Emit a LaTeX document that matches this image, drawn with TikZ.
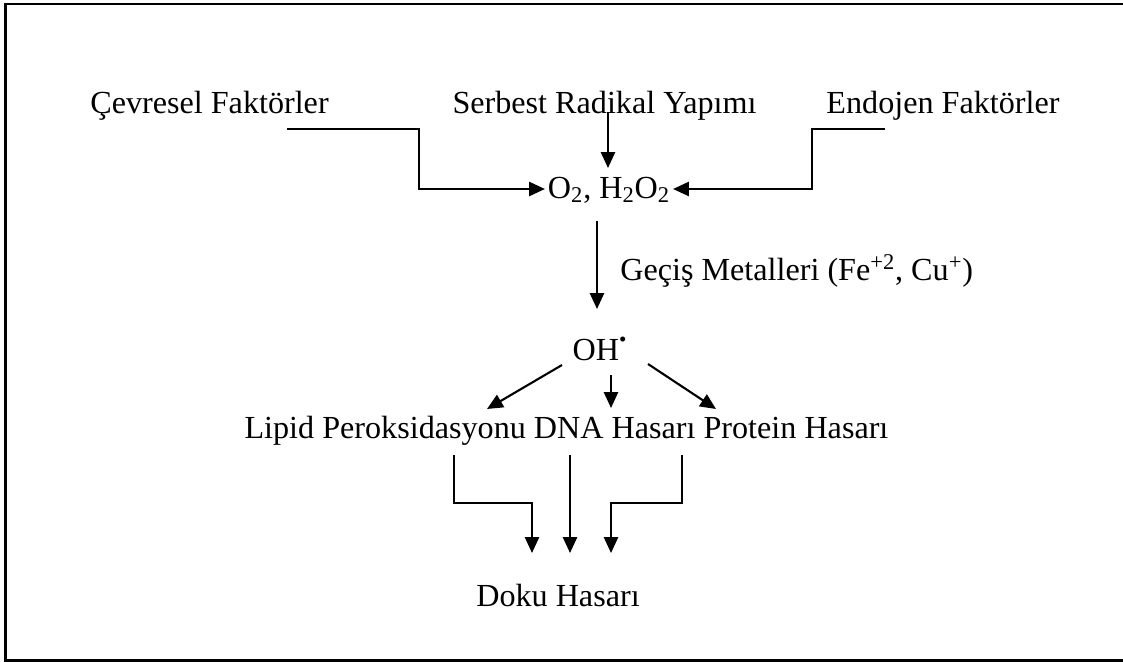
\documentclass[tikz,border=0pt]{standalone}
\usepackage{fontspec}
\setmainfont{Liberation Serif}
\usetikzlibrary{arrows.meta}
\begin{document}
\begin{tikzpicture}[x=0.02cm,y=-0.02cm,
  lbl/.style={inner sep=0pt,font=\fontsize{18.3}{22}\selectfont},
  conn/.style={line width=1.2pt,-{Triangle[width=8pt,length=9pt]}}]
\useasboundingbox (0,0) rectangle (1123,662);
\begin{scope}
\clip (0,0) rectangle (1123,662);
\draw[line width=1.2pt] (5.5,4.3) rectangle (1140,660.5);
\end{scope}
% text nodes
\node[lbl] (cev) at (209.5,106) {Çevresel Faktörler};
\node[lbl] (srb) at (604.5,106) {Serbest Radikal Yapımı};
\node[lbl] (end) at (943,106) {Endojen Faktörler};
\node[lbl,inner sep=1.5pt] (o2) at (609,190) {O\textsubscript{2}, H\textsubscript{2}O\textsubscript{2}};
\node[lbl,anchor=west] (gec) at (620,271) {Geçiş Metalleri (Fe\textsuperscript{+2}, Cu\textsuperscript{+})};
\node[lbl] (oh) at (600,349) {OH\textsuperscript{\raisebox{0.35ex}{\fontsize{12}{12}\selectfont\textbullet}}};
\node[lbl] (row) at (566.5,431) {Lipid Peroksidasyonu DNA Hasarı Protein Hasarı};
\node[lbl] (dok) at (558,596) {Doku Hasarı};
% coordinates
\coordinate (c1) at (287,129);
\coordinate (c2) at (419,129);
\coordinate (c3) at (419,189);
\coordinate (s1) at (608,112);
\coordinate (s2) at (608,168);
\coordinate (e1) at (885,129);
\coordinate (e2) at (812,129);
\coordinate (e3) at (812,189);
\coordinate (m1) at (597,221);
\coordinate (m2) at (597,309);
\coordinate (l1) at (562,365);
\coordinate (l2) at (487,409);
\coordinate (d1) at (611,375);
\coordinate (d2) at (611,408);
\coordinate (r1) at (648,364);
\coordinate (r2) at (716,409);
\coordinate (b1) at (454,455);
\coordinate (b2) at (454,503);
\coordinate (b3) at (532,503);
\coordinate (b4) at (532,553);
\coordinate (b5) at (570,455);
\coordinate (b6) at (570,553);
\coordinate (b7) at (682,455);
\coordinate (b8) at (682,503);
\coordinate (b9) at (611,503);
\coordinate (b10) at (611,553);
% connectors
\draw[conn] (c1) -- (c2) -- (c3) -- (c3 -| o2.west);
\draw[conn] (s1) -- (s2);
\draw[conn] (e1) -- (e2) -- (e3) -- (e3 -| o2.east);
\draw[conn] (m1) -- (m2);
\draw[conn] (l1) -- (l2);
\draw[conn] (d1) -- (d2);
\draw[conn] (r1) -- (r2);
\draw[conn] (b1) -- (b2) -- (b3) -- (b4);
\draw[conn] (b5) -- (b6);
\draw[conn] (b7) -- (b8) -- (b9) -- (b10);
\end{tikzpicture}
\end{document}
